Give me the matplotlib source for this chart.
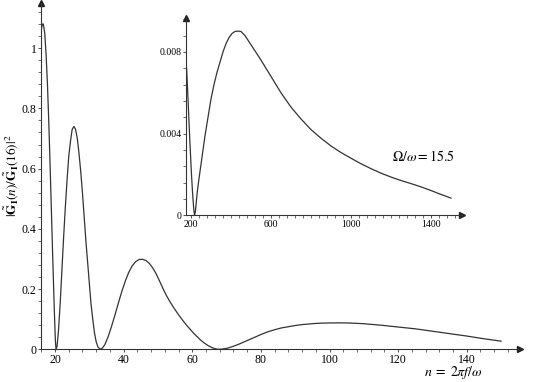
import matplotlib
matplotlib.use('Agg')
import matplotlib.pyplot as plt
from matplotlib.ticker import MultipleLocator

plt.rcParams['font.family'] = ['Liberation Serif', 'DejaVu Serif']
plt.rcParams['mathtext.fontset'] = 'stix'

# main curve
n_main = [16.0, 16.3, 16.6, 17.0, 17.4, 17.8, 18.2, 18.6, 19.0, 19.4, 19.8, 20.1,
          20.3, 20.6, 21.0, 21.5, 22.0, 22.5, 23.0, 23.5, 24.0, 24.5, 25.0, 25.5,
          26.0, 26.5, 27.0, 27.5, 28.0, 28.5, 29.0, 29.5, 30.0, 30.5, 31.0, 31.5,
          32.0, 32.5, 33.2, 33.8, 34.5, 35.5, 36.5, 37.5, 38.5, 39.5, 40.5, 41.5,
          42.5, 43.5, 44.5, 45.5, 46.5, 47.5, 48.5, 49.5, 50.5, 51.5, 52.5, 53.5,
          54.5, 55.5, 56.5, 57.5, 58.5, 59.5, 60.5, 61.5, 62.5, 63.5, 64.5, 65.5,
          66.5, 67.5, 68.5, 70.0, 72.0, 74.0, 76.0, 78.0, 80.0, 82.0, 84.0, 86.0,
          88.0, 90.0, 92.0, 94.0, 96.0, 98.0, 100.0, 103.0, 106.0, 110.0, 115.0,
          120.0, 125.0, 130.0, 135.0, 140.0, 145.0, 150.0]
g_main = [1.06, 1.08, 1.08, 1.05, 0.98, 0.88, 0.75, 0.60, 0.44, 0.28, 0.13, 0.03,
          0.0, 0.01, 0.06, 0.15, 0.26, 0.37, 0.47, 0.56, 0.64, 0.69, 0.73, 0.74,
          0.73, 0.70, 0.65, 0.59, 0.52, 0.44, 0.36, 0.29, 0.22, 0.15, 0.10, 0.055,
          0.025, 0.008, 0.0, 0.004, 0.015, 0.042, 0.077, 0.115, 0.155, 0.193, 0.227, 0.256,
          0.277, 0.291, 0.298, 0.299, 0.295, 0.285, 0.270, 0.250, 0.226, 0.201, 0.178, 0.158,
          0.140, 0.123, 0.107, 0.092, 0.078, 0.065, 0.052, 0.041, 0.030, 0.021, 0.013, 0.007,
          0.0025, 0.0, 0.0005, 0.003, 0.010, 0.019, 0.029, 0.039, 0.049, 0.058, 0.065, 0.071,
          0.075, 0.079, 0.082, 0.084, 0.086, 0.087, 0.0875, 0.0878, 0.0872, 0.085, 0.080,
          0.074, 0.068, 0.060, 0.052, 0.044, 0.035, 0.027]

# inset curve
n_ins = [178, 182, 186, 190, 194, 198, 202, 206, 210, 214, 218, 222, 226, 232, 240,
         250, 260, 270, 280, 290, 300, 315, 330, 345, 360, 375, 390, 405, 420, 435,
         450, 470, 490, 510, 530, 550, 575, 600, 625, 650, 675, 700, 750, 800, 850,
         900, 950, 1000, 1050, 1100, 1150, 1200, 1250, 1300, 1350, 1400, 1450, 1500]
g_ins = [0.0072, 0.0064, 0.0055, 0.0046, 0.0037, 0.0029, 0.0021, 0.0014, 0.0008,
         0.0003, 0.0, 0.0002, 0.0006, 0.0012, 0.0018, 0.0025, 0.0032, 0.0039, 0.0045,
         0.0051, 0.0057, 0.0064, 0.0070, 0.0075, 0.0080, 0.0084, 0.0087, 0.0089,
         0.0090, 0.00902, 0.0090, 0.0088, 0.0085, 0.0082, 0.0079, 0.0076, 0.0072,
         0.0068, 0.0064, 0.0060, 0.00565, 0.0053, 0.00472, 0.0042, 0.00378, 0.0034,
         0.00308, 0.0028, 0.00253, 0.00229, 0.00207, 0.00188, 0.00171, 0.00156,
         0.00140, 0.00122, 0.00103, 0.00085]

main_xticks = [20, 40, 60, 80, 100, 120, 140]
main_yticks = [0, 0.2, 0.4, 0.6, 0.8, 1]
ins_xticks = [200, 600, 1000, 1400]
ins_yticks = [0, 0.004, 0.008]


def maple_axes(ax, fs):
    for s in ['top', 'right']:
        ax.spines[s].set_visible(False)
    for s in ['left', 'bottom']:
        ax.spines[s].set_linewidth(0.8)
        ax.spines[s].set_color('#333333')
    ax.plot(1, 0, '>', color='#222222', ms=4, transform=ax.transAxes, clip_on=False)
    ax.plot(0, 1, '^', color='#222222', ms=4, transform=ax.transAxes, clip_on=False)
    ax.tick_params(which='major', length=2.5, width=0.6, labelsize=fs, pad=0.8, color='#333333')
    ax.tick_params(which='minor', length=2, width=0.5, color='#333333')
    ax.patch.set_alpha(0)


fig = plt.figure(figsize=(5.34, 3.82), dpi=100)

ax = fig.add_axes([0.0773, 0.0856, 0.8964, 0.9066])
ax.plot(n_main, g_main, color='#333333', lw=0.9)
ax.set_xlim(16, 155.5)
ax.set_ylim(0, 1.15)
ax.set_xticks(main_xticks)
ax.set_yticks(main_yticks)
ax.set_yticklabels(['0', '0.2', '0.4', '0.6', '0.8', '1'])
ax.xaxis.set_minor_locator(MultipleLocator(4))
ax.yaxis.set_minor_locator(MultipleLocator(0.04))
maple_axes(ax, 8.5)
ax.text(0.86, -0.068, r'$n\;=\;2\pi f/\omega$', transform=ax.transAxes,
        ha='center', va='center', fontsize=10)
fig.text(0.021, 0.54, r'$|\tilde{\mathbf{G}}_{\mathbf{I}}(n)/\tilde{\mathbf{G}}_{\mathbf{I}}(16)|^2$',
         rotation=90, ha='center', va='center', fontsize=9.5)

ins = fig.add_axes([0.3483, 0.4359, 0.5169, 0.517])
ins.plot(n_ins, g_ins, color='#333333', lw=0.9)
ins.set_xlim(175, 1555)
ins.set_ylim(0, 0.00966)
ins.set_xticks(ins_xticks)
ins.set_yticks(ins_yticks)
ins.set_yticklabels(['0', '0.004', '0.008'])
ins.xaxis.set_minor_locator(MultipleLocator(40))
ins.yaxis.set_minor_locator(MultipleLocator(0.0008))
maple_axes(ins, 7)
ins.text(0.86, 0.30, r'$\Omega/\omega = 15.5$', transform=ins.transAxes,
         ha='center', va='center', fontsize=10)

fig.savefig('out.png', dpi=100)
